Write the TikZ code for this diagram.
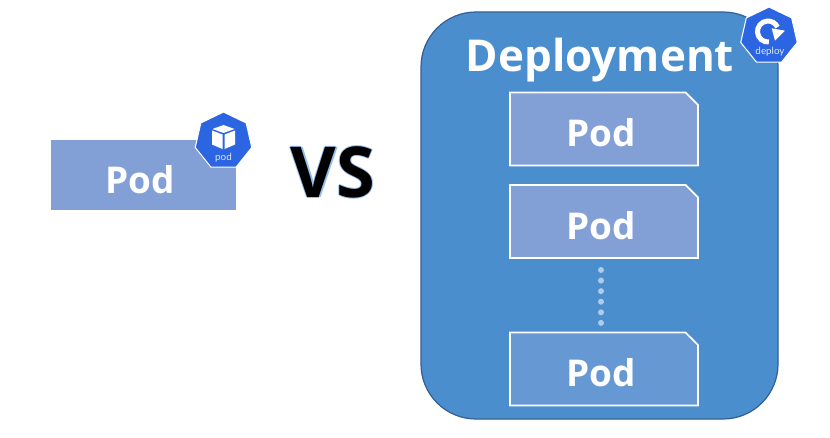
\documentclass[tikz,border=0pt]{standalone}
\usepackage{fontspec}
\setmainfont{Open Sans}
\newfontfamily\iconfont{Lato}
\usetikzlibrary{shapes.geometric,shapes.misc,positioning,calc}
\definecolor{deployblue}{RGB}{75,142,205}
\definecolor{deployedge}{RGB}{52,96,150}
\definecolor{podblue}{RGB}{130,160,214}
\definecolor{podfade}{RGB}{102,152,211}
\definecolor{k8sblue}{RGB}{44,101,225}
\definecolor{dotblue}{RGB}{176,203,231}
\definecolor{glowblue}{RGB}{150,190,235}
\tikzset{
  podflat/.style={rectangle, fill=podblue, minimum width=3.7cm, minimum height=1.4cm, inner sep=0pt, text height=0.74cm, text depth=0pt, text=white, font=\bfseries\fontsize{21}{26}\selectfont},
  podbox/.style={chamfered rectangle, chamfered rectangle corners=north east, chamfered rectangle xsep=0.125cm, chamfered rectangle ysep=0.125cm, draw=white, line width=1pt, fill=podblue, minimum width=3.76cm, minimum height=1.46cm, inner sep=0pt, text height=0.7cm, text depth=0pt, text=white, font=\bfseries\fontsize{21}{26}\selectfont},
  k8sicon/.style={regular polygon, regular polygon sides=7, draw=white, line width=0.6pt, fill=k8sblue, minimum size=1.16cm, inner sep=0pt},
  icontext/.style={text=white!85!k8sblue, inner sep=0pt, font=\iconfont\fontsize{5.6}{6}\selectfont},
  vstext/.style={font=\bfseries\fontsize{40}{46}\selectfont},
}
\newcommand{\podname}{Pod\kern0.12cm\relax}

\begin{document}
\begin{tikzpicture}
  \useasboundingbox (0,0) rectangle (16.6,8.74);

  % Left side
  \node[podflat] (pod) at (2.87,5.24) {\podname};
  \node[k8sicon] (podicon) at (4.47,5.92) {};
  \node[icontext] (podlabel) at (4.47,5.59) {pod};
  \begin{scope}[shift={(podicon.center)}, x=0.02cm, y=0.02cm]
    \fill[white] (0,16) -- (11,12) -- (0,8) -- (-11,12) -- cycle;
    \fill[white] (-11.5,10.5) -- (-1,6.5) -- (-1,-8) -- (-11.5,-3.5) -- cycle;
    \fill[white] (11.5,10.5) -- (1,6.5) -- (1,-8) -- (11.5,-3.5) -- cycle;
  \end{scope}

  % VS with its glow
  \foreach \dx/\dy in {-0.025/0, 0.025/0, 0/-0.025, 0/0.025}
    \node[vstext, text=glowblue] at ($(6.66,5.29)+(\dx,\dy)$) {VS};
  \node[vstext] (vs) at (6.66,5.29) {VS};

  % Deployment
  \node[draw=deployedge, line width=0.7pt, fill=deployblue, rounded corners=1.1cm, minimum width=7.14cm, minimum height=8.14cm] (deploy) at (11.99,4.43) {};
  \node[text=white, font=\bfseries\fontsize{25}{32}\selectfont] (title) at (12.0,7.53) {Deployment};
  \node[podbox] (pod1) at (12.08,6.16) {\podname};
  \node[podbox] (pod2) at (12.08,4.31) {\podname};
  \node[podbox, fill=podfade] (pod3) at (12.08,1.36) {\podname};
  \coordinate (dottop) at (12.02,3.34);
  \coordinate (dotbot) at (12.02,2.26);
  \draw[dotblue, line width=0.12cm, line cap=round, dash pattern=on 0pt off 0.2115cm] (dottop) -- (dotbot);

  % Deployment icon
  \node[k8sicon] (deployicon) at (15.38,8.02) {};
  \node[icontext] (deploylabel) at (15.4,7.7) {deploy};
  \begin{scope}[shift={(deployicon.center)}, x=0.02cm, y=0.02cm]
    \draw[white, line width=0.1cm] (-0.1,-6) arc[start angle=275, end angle=25, radius=10.5];
    \fill[white] (2.7,7.7) -- (16,5.3) -- (6,-4.7) -- cycle;
  \end{scope}
\end{tikzpicture}
\end{document}
